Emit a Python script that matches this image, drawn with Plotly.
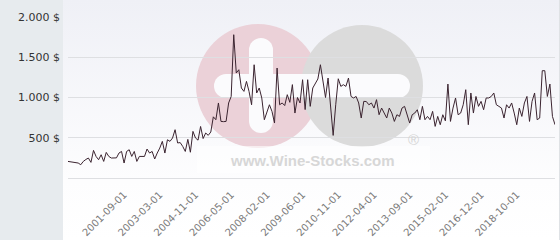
import base64
import plotly.graph_objects as go

# ---- data ----
prices = [
    # 0-45
    206, 200, 196, 194, 186, 165, 206, 230, 248, 194, 343, 268, 227, 289, 206, 318,
    268, 248, 245, 250, 310, 330, 186, 330, 351, 268, 330, 206, 268, 265, 268, 360,
    310, 330, 236, 310, 372, 455, 310, 475, 455, 497, 600, 435, 440, 392,
    # 46-65
    330, 480, 320, 579, 497, 470, 640, 490, 559, 530, 571, 760, 724, 932, 703, 700,
    703, 932, 1013, 1780,
    # 66-104
    1304, 1345, 1118, 1076, 1200, 1076, 910, 1407, 1056, 1118, 994, 724, 807, 910,
    828, 683, 1366, 910, 932, 900, 1035, 940, 1160, 807, 1000, 932, 1221, 850, 1221,
    890, 1118, 1180, 1230, 1407, 1180, 1000, 1242, 930, 529,
    # 105-141
    910, 1233, 1138, 1159, 1138, 1242, 1013, 994, 1013, 932, 745, 952, 950, 910, 932,
    869, 973, 786, 869, 807, 745, 869, 807, 703, 786, 765, 869, 890, 786, 683, 786,
    807, 848, 724, 890, 724, 765,
    # 142-191
    724, 828, 641, 765, 662, 786, 710, 1167, 703, 869, 994, 786, 807, 910, 1097, 662,
    1056, 807, 1013, 890, 952, 848, 994, 994, 1013, 1056, 910, 890, 869, 745, 910,
    869, 932, 807, 662, 869, 765, 932, 1013, 703, 952, 1056, 724, 745, 1333, 1333,
    1013, 1167, 765, 662,
]
point_index = list(range(len(prices)))

x_tick_labels = ["2001-09-01", "2003-03-01", "2004-11-01", "2006-05-01", "2008-02-01",
                 "2009-06-01", "2010-11-01", "2012-04-01", "2013-09-01", "2015-02-01",
                 "2016-12-01", "2018-10-01"]
x_tick_index = [22, 36, 50, 64, 78, 92, 106, 120, 134, 148, 162, 176]

y_tick_values = [500, 1000, 1500, 2000]
y_tick_labels = ["500 $", "1.000 $", "1.500 $", "2.000 $"]

# ---- geometry helpers (pixel -> paper) ----
W, H = 560, 240
ML, MR, MT, MB = 68, 5, 17, 62
PW, PH = W - ML - MR, H - MT - MB


def X(px):
    return (px - ML) / PW


def Y(py):
    return (H - MB - py) / PH


fig = go.Figure()
fig.add_trace(go.Scatter(
    x=point_index, y=prices, mode="lines",
    line=dict(color="#3b2430", width=1),
    hoverinfo="skip", showlegend=False,
))

# gradient background for the chart area
svg = ('<svg xmlns="http://www.w3.org/2000/svg" width="497" height="240" '
       'preserveAspectRatio="none"><defs><linearGradient id="g" x1="0" y1="0" x2="0" y2="1">'
       '<stop offset="0" stop-color="#eff0f6"/><stop offset="0.75" stop-color="#fdfdfe"/>'
       '<stop offset="1" stop-color="#ffffff"/></linearGradient></defs>'
       '<rect width="497" height="240" fill="url(#g)"/></svg>')
src = "data:image/svg+xml;base64," + base64.b64encode(svg.encode()).decode()

shapes = []


def circle(cx, cy, r, color):
    shapes.append(dict(type="circle", xref="paper", yref="paper",
                       x0=X(cx - r), x1=X(cx + r), y0=Y(cy + r), y1=Y(cy - r),
                       fillcolor=color, line=dict(width=0), layer="below"))


def rect(x0, y0, x1, y1, color, opacity=1):
    shapes.append(dict(type="rect", xref="paper", yref="paper",
                       x0=X(x0), x1=X(x1), y0=Y(y1), y1=Y(y0),
                       fillcolor=color, opacity=opacity, line=dict(width=0), layer="below"))


# watermark logo
circle(258, 86, 62, "#ebd1d8")
circle(362, 86, 61, "#dbdbdb")
# vertical white bar (pink circle)
rect(249, 50, 273, 121, "#fbfbfd")
circle(261, 50, 12, "#fbfbfd")
circle(261, 121, 12, "#fbfbfd")
# horizontal white bar
rect(226, 74, 398, 98, "#fbfbfd")
circle(226, 86, 12, "#fbfbfd")
circle(398, 86, 12, "#fbfbfd")
# light panel behind the text
rect(197, 146, 430, 173, "#ffffff", 0.6)
# right border
shapes.append(dict(type="line", xref="paper", yref="paper", x0=X(559.5), x1=X(559.5),
                   y0=Y(240), y1=Y(0), line=dict(color="#dfe2e5", width=1), layer="below"))

fig.update_layout(
    width=W, height=H,
    margin=dict(l=ML, r=MR, t=MT, b=MB, pad=0, autoexpand=False),
    paper_bgcolor="#e7ebee",
    plot_bgcolor="rgba(0,0,0,0)",
    images=[dict(source=src, xref="paper", yref="paper", x=X(63), y=Y(0),
                 sizex=497 / PW, sizey=240 / PH, xanchor="left", yanchor="top",
                 sizing="stretch", layer="below")],
    shapes=shapes,
    annotations=[
        dict(text="www.Wine-Stocks.com", xref="paper", yref="paper", x=X(312), y=Y(160),
             showarrow=False, xanchor="center", yanchor="middle",
             font=dict(family="Liberation Sans, Arial, sans-serif", size=15,
                       color="#d7d7d7", weight="bold")),
        dict(text="®", xref="paper", yref="paper", x=X(413), y=Y(139),
             showarrow=False, xanchor="center", yanchor="middle",
             font=dict(family="Liberation Sans, Arial, sans-serif", size=15, color="#d5d5d5")),
    ],
    xaxis=dict(
        range=[0, len(prices) - 1], showgrid=False, zeroline=False, showline=False,
        tickmode="array", tickvals=x_tick_index, ticktext=x_tick_labels,
        tickangle=-45, ticks="", ticklabelstandoff=8, automargin=False,
        tickfont=dict(family="DejaVu Sans", size=10, color="#7a7a7a"),
        fixedrange=True,
    ),
    yaxis=dict(
        range=[0, 2000], showgrid=True, gridcolor="#dedfe2", gridwidth=1,
        zeroline=True, zerolinecolor="#dedfe2", zerolinewidth=1, showline=False,
        tickmode="array", tickvals=y_tick_values, ticktext=y_tick_labels,
        ticks="", ticklabelstandoff=7, automargin=False,
        tickfont=dict(family="DejaVu Sans", size=11, color="#333333"),
        fixedrange=True,
    ),
)

fig.write_html("out.html")
